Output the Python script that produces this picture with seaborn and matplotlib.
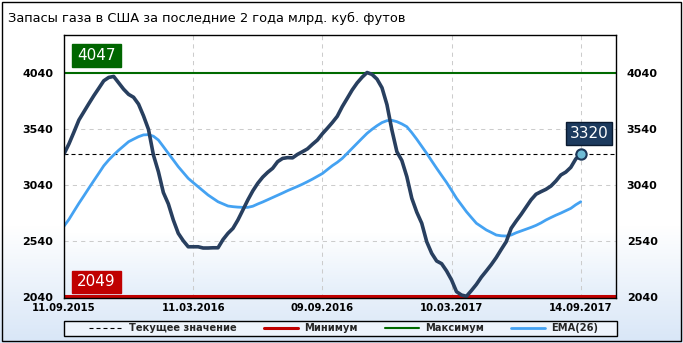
import numpy as np
import pandas as pd
import matplotlib
matplotlib.use('Agg')
import matplotlib.pyplot as plt
import seaborn as sns
from matplotlib.patches import Rectangle

# ---------------- data ----------------
week = list(range(105))
storage = [3320, 3410, 3515, 3623, 3696, 3769, 3840, 3906, 3973, 4003,
           4012, 3955, 3898, 3852, 3826, 3765, 3660, 3540, 3310, 3161,
           2975, 2874, 2730, 2611, 2545, 2491, 2491, 2491, 2480, 2480,
           2482, 2482, 2555, 2611, 2655, 2730, 2819, 2909, 2990, 3058,
           3113, 3156, 3192, 3251, 3280, 3287, 3285, 3316, 3340, 3365,
           3406, 3444, 3500, 3549, 3600, 3656, 3742, 3816, 3891, 3954,
           4005, 4047, 4030, 3988, 3911, 3760, 3532, 3340, 3261, 3117,
           2924, 2800, 2701, 2536, 2433, 2364, 2340, 2275, 2195, 2090,
           2060, 2049, 2100, 2155, 2220, 2275, 2332, 2395, 2467, 2536,
           2656, 2720, 2780, 2845, 2910, 2960, 2983, 3004, 3033, 3078,
           3132, 3158, 3200, 3275, 3320]
ema26 = [2675, 2736, 2808, 2879, 2946, 3014, 3081, 3147, 3214, 3266,
         3311, 3353, 3391, 3429, 3452, 3474, 3490, 3492, 3478, 3444,
         3385, 3325, 3266, 3206, 3154, 3102, 3064, 3027, 2990, 2953,
         2923, 2893, 2874, 2855, 2849, 2845, 2843, 2843, 2853, 2873,
         2891, 2911, 2931, 2951, 2971, 2992, 3011, 3030, 3050, 3072,
         3095, 3120, 3145, 3180, 3215, 3245, 3280, 3325, 3370, 3415,
         3460, 3504, 3540, 3572, 3600, 3617, 3620, 3608, 3588, 3563,
         3510, 3451, 3388, 3325, 3258, 3192, 3128, 3065, 2995, 2924,
         2864, 2804, 2752, 2701, 2671, 2641, 2619, 2596, 2589, 2587,
         2596, 2616, 2632, 2648, 2664, 2682, 2704, 2730, 2752, 2773,
         2792, 2813, 2834, 2866, 2893]
tick_pos = [0, 26, 52, 78, 104]
tick_labels = ['11.09.2015', '11.03.2016', '09.09.2016', '10.03.2017', '14.09.2017']
y_ticks = [2040, 2540, 3040, 3540, 4040]
max_val = 4047
min_val = 2049
current_val = 3320
title = 'Запасы газа в США за последние 2 года млрд. куб. футов'
legend_labels = ['Текущее значение', 'Минимум', 'Максимум', 'EMA(26)']

# ---------------- style ----------------
W, H = 683, 343
sns.set_theme(style='white')
plt.rcParams['font.family'] = ['DejaVu Sans']

DARK = '#283f5f'
EMA_C = '#44a2f2'
RED = '#c00000'
GREEN = '#006a00'

fig = plt.figure(figsize=(W / 100, H / 100), dpi=100)
fig.patch.set_facecolor('white')


def fx(x):
    return x / W


def fy(y):
    return 1 - y / H


# figure background gradient (white -> light blue at bottom)
bg = fig.add_axes([0, 0, 1, 1], zorder=-10)
rows = np.arange(H)
s = np.clip((rows - 225) / (H - 225), 0, 1)
top_c = np.array([1.0, 1.0, 1.0])
bot_c = np.array([0xd8, 0xe6, 0xf7]) / 255
img = (top_c[None, :] * (1 - s[:, None]) + bot_c[None, :] * s[:, None])[:, None, :]
bg.imshow(img, aspect='auto', extent=[0, 1, 0, 1])
bg.set_xlim(0, 1)
bg.set_ylim(0, 1)
bg.axis('off')

# main axes
left, right, top, bottom = 64, 616, 35, 297.5
ax = fig.add_axes([fx(left), fy(bottom), (right - left) / W, (bottom - top) / H])
ax.set_facecolor('white')

# plot area gradient
prow = np.arange(100)
ps = np.clip((prow - 75) / 25, 0, 1)
pbot = np.array([0xe3, 0xee, 0xfa]) / 255
pimg = (top_c[None, :] * (1 - ps[:, None]) + pbot[None, :] * ps[:, None])[:, None, :]
ax.imshow(pimg, aspect='auto', extent=[0, 1, 0, 1], transform=ax.transAxes, zorder=0)

df = pd.DataFrame({'week': week, 'storage': storage, 'ema': ema26})

cur_line = ax.axhline(current_val, color='black', lw=0.8, linestyle=(0, (3.6, 2.7)), zorder=3)
min_line = ax.axhline(min_val, color=RED, lw=2.2, zorder=3)
max_line = ax.axhline(max_val, color=GREEN, lw=1.5, zorder=3)
sns.lineplot(data=df, x='week', y='ema', ax=ax, color=EMA_C, lw=2.0, zorder=4)
sns.lineplot(data=df, x='week', y='storage', ax=ax, color=DARK, lw=2.6, zorder=5)
ema_line = ax.lines[-2]
ax.scatter([week[-1]], [storage[-1]], s=55, facecolor='#6fbcd6', edgecolor='#1c3658',
           linewidth=1.5, zorder=6)

ax.set_xlim(0, 111.1)
ax.set_ylim(2038, 4382)
ax.set_xlabel('')
ax.set_ylabel('')

ax.set_yticks(y_ticks)
ax.set_yticklabels([str(v) for v in y_ticks])
ax.set_xticks(tick_pos)
ax.set_xticklabels(tick_labels, fontsize=7.2, fontweight='bold', color='black')
ax.tick_params(axis='x', length=0, pad=4)
ax.tick_params(axis='y', length=0, pad=7.7, labelsize=8, labelcolor='black',
               labelleft=True, labelright=True)
for t in ax.yaxis.get_major_ticks():
    t.label1.set_fontweight('bold')
    t.label2.set_fontweight('bold')

ax.grid(True, color='#cccccc', linestyle=(0, (4, 4)), lw=0.75, zorder=1)
for sp in ax.spines.values():
    sp.set_visible(True)
    sp.set_color('black')
    sp.set_linewidth(1.0)
    sp.set_zorder(10)

# value boxes
def value_box(x0, y0, x1, y1, text, fc, ec=None):
    fig.add_artist(Rectangle((fx(x0), fy(y1)), (x1 - x0) / W, (y1 - y0) / H,
                             transform=fig.transFigure, facecolor=fc,
                             edgecolor=ec if ec else fc, lw=1, zorder=20))
    fig.text(fx((x0 + x1) / 2), fy((y0 + y1) / 2), text, color='white', fontsize=11,
             ha='center', va='center', zorder=21)

value_box(71.7, 44, 120.7, 67, str(max_val), '#006600')
value_box(71.5, 271, 120.5, 293, str(min_val), RED)
value_box(566, 122, 612, 145, str(current_val), '#1c3a5e', '#0a1a30')

# title
fig.text(fx(8), fy(18), title, fontsize=9.4, ha='left', va='center', color='black')

# legend frame + legend
fig.add_artist(Rectangle((fx(63.5), fy(335.5)), (617 - 63.5) / W, 15 / H,
                         transform=fig.transFigure, facecolor='#eef4fc',
                         edgecolor='black', lw=1, zorder=1))
leg = fig.legend([cur_line, min_line, max_line, ema_line], legend_labels,
                 loc='center', ncol=4, mode='expand', frameon=False,
                 bbox_to_anchor=(fx(89), fy(328) - 0.01, (598 - 89) / W, 0.02),
                 borderaxespad=0, borderpad=0, handlelength=3.5, handletextpad=0.6,
                 prop={'size': 7.1, 'weight': 'bold'})
leg.set_zorder(5)

# outer border
fig.add_artist(Rectangle((fx(1.5), fy(340.5)), (681 - 1.5) / W, (340.5 - 1.5) / H,
                         transform=fig.transFigure, facecolor='none',
                         edgecolor='black', lw=1, zorder=30))

fig.savefig('out.png', dpi=100)
